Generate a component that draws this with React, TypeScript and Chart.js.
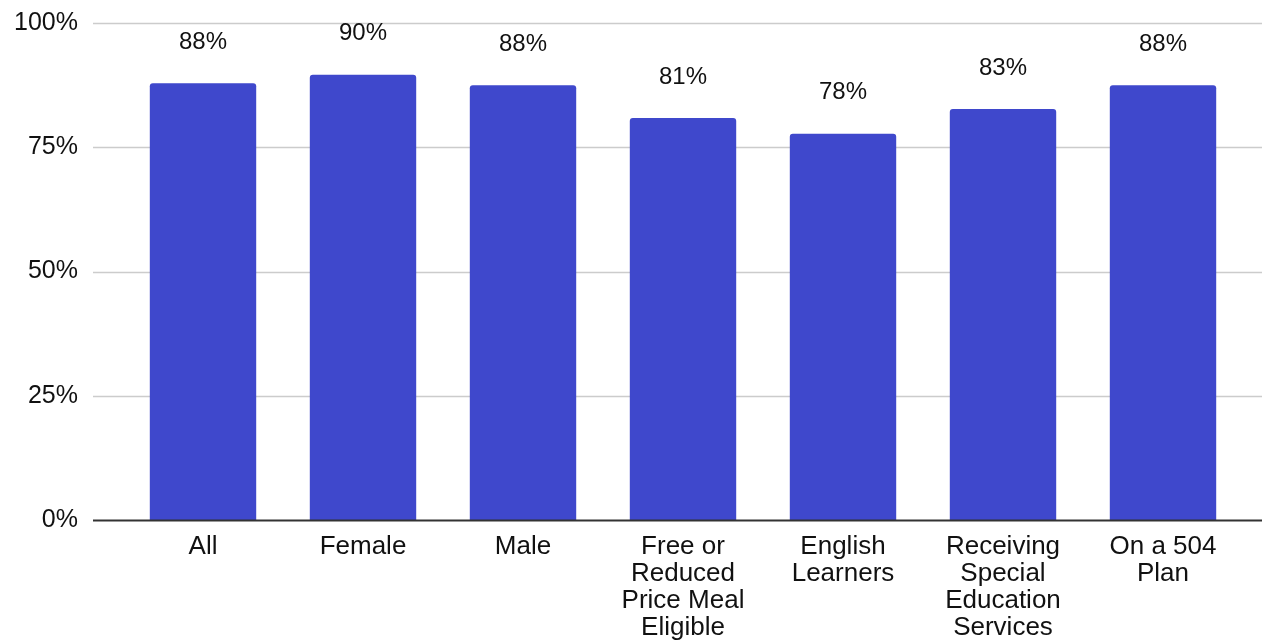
import React, { useEffect, useRef } from "react";
import { Chart, registerables } from "chart.js";

Chart.register(...registerables);

const categories: string[][] = [
  ["All"],
  ["Female"],
  ["Male"],
  ["Free or", "Reduced", "Price Meal", "Eligible"],
  ["English", "Learners"],
  ["Receiving", "Special", "Education", "Services"],
  ["On a 504", "Plan"],
];
const values: number[] = [87.9, 89.6, 87.5, 80.9, 77.7, 82.7, 87.5];
const yTicks: number[] = [0, 25, 50, 75, 100];

const FONT = "'Liberation Sans', Arial, sans-serif";
const BAR_COLOR = "#3f48cc";

export default function App() {
  const ref = useRef<HTMLCanvasElement | null>(null);

  useEffect(() => {
    if (!ref.current) return;

    const gridPlugin = {
      id: "customGrid",
      beforeDatasetsDraw(chart: any) {
        const ctx = chart.ctx;
        const y = chart.scales.y;
        ctx.save();
        yTicks.forEach((t) => {
          if (t === 0) return;
          const py = Math.round(y.getPixelForValue(t)) + 0.5;
          ctx.beginPath();
          ctx.strokeStyle = "#cccccc";
          ctx.lineWidth = 1.5;
          ctx.moveTo(93, py);
          ctx.lineTo(1262, py);
          ctx.stroke();
        });
        ctx.restore();
      },
      afterDatasetsDraw(chart: any) {
        const ctx = chart.ctx;
        const y = chart.scales.y;
        const zy = Math.round(y.getPixelForValue(0)) + 0.5;
        ctx.save();
        ctx.strokeStyle = "#333333";
        ctx.lineWidth = 2;
        ctx.beginPath();
        ctx.moveTo(93, zy);
        ctx.lineTo(1262, zy);
        ctx.stroke();
        const meta = chart.getDatasetMeta(0);
        ctx.fillStyle = "#111111";
        ctx.font = `24px ${FONT}`;
        ctx.textAlign = "center";
        ctx.textBaseline = "middle";
        meta.data.forEach((bar: any, i: number) => {
          ctx.fillText(`${Math.round(values[i])}%`, bar.x, bar.y - 41);
        });
        ctx.restore();
      },
    };

    const chart = new Chart(ref.current, {
      type: "bar",
      data: {
        labels: categories,
        datasets: [
          {
            data: values,
            backgroundColor: BAR_COLOR,
            borderRadius: 3,
            borderSkipped: "start",
            categoryPercentage: 1,
            barPercentage: 0.665,
          },
        ],
      },
      options: {
        animation: false,
        responsive: false,
        maintainAspectRatio: false,
        layout: { padding: { top: 23, right: 19, left: 0, bottom: 0 } },
        plugins: {
          legend: { display: false },
          tooltip: { enabled: false },
        },
        scales: {
          x: {
            grid: { display: false, drawTicks: false },
            border: { display: false },
            ticks: {
              color: "#111111",
              font: { family: FONT, size: 26, lineHeight: 1.04 },
              padding: 13,
              maxRotation: 0,
              autoSkip: false,
            },
            afterFit(scale: any) {
              scale.height = 120;
              scale.paddingLeft = 0;
              scale.paddingRight = 0;
            },
          },
          y: {
            min: 0,
            max: 100,
            afterBuildTicks(scale: any) {
              scale.ticks = yTicks.map((v) => ({ value: v }));
            },
            grid: { display: false, drawTicks: false },
            border: { display: false },
            ticks: {
              color: "#111111",
              font: { family: FONT, size: 25 },
              padding: 45,
              callback: (v: any) => `${v}%`,
            },
            afterFit(scale: any) {
              scale.width = 123;
              scale.paddingTop = 0;
              scale.paddingBottom = 0;
            },
          },
        },
      },
      plugins: [gridPlugin],
    });

    return () => chart.destroy();
  }, []);

  return (
    <div style={{ position: "fixed", left: 0, top: 0, width: 1262, height: 640, background: "#fff" }}>
      <canvas ref={ref} width={1262} height={640} style={{ display: "block" }} />
    </div>
  );
}
